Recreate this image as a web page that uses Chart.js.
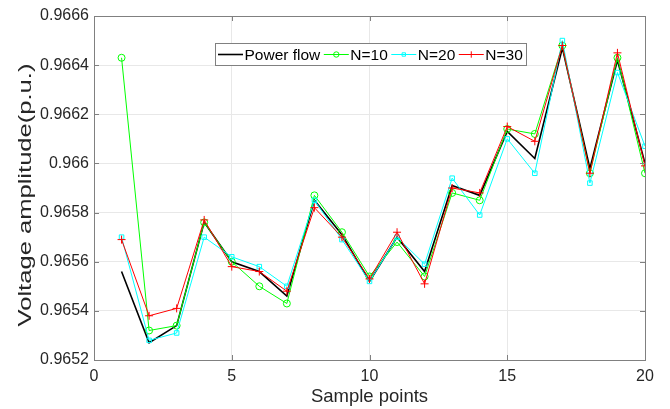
<!DOCTYPE html>
<html>
<head>
<meta charset="utf-8">
<script src="https://cdn.jsdelivr.net/npm/chart.js@4.4.0/dist/chart.umd.min.js"></script>
<style>
  html, body { margin: 0; padding: 0; background: #fff; }
  #wrap { width: 670px; height: 409px; }
</style>
</head>
<body>
<div id="wrap"><canvas id="voltChart" width="670" height="409"></canvas></div>
<script>
// sample index along the x axis
const samplePoints = [1, 2, 3, 4, 5, 6, 7, 8, 9, 10, 11, 12, 13, 14, 15, 16, 17, 18, 19, 20];

// voltage amplitude (p.u.) per series
const powerFlow = [0.96556, 0.96527, 0.96534, 0.96576, 0.96560, 0.96556, 0.96546, 0.96585, 0.96571, 0.96552,
  0.96570, 0.96556, 0.96591, 0.96587, 0.96613, 0.96602, 0.96647, 0.96598, 0.96642, 0.96600];
const n10 = [0.96643, 0.96532, 0.96534, 0.96576, 0.96560, 0.96550, 0.96543, 0.96587, 0.96572, 0.96554,
  0.96568, 0.96554, 0.96588, 0.96585, 0.96614, 0.96612, 0.96648, 0.96596, 0.96643, 0.96596];
const n20 = [0.96570, 0.96528, 0.96531, 0.96570, 0.96562, 0.96558, 0.96550, 0.96585, 0.96569, 0.96552,
  0.96570, 0.96559, 0.96594, 0.96579, 0.96610, 0.96596, 0.96650, 0.96592, 0.96637, 0.96607];
const n30 = [0.96569, 0.96538, 0.96541, 0.96577, 0.96558, 0.96556, 0.96548, 0.96582, 0.96570, 0.96553,
  0.96572, 0.96551, 0.96590, 0.96588, 0.96615, 0.96609, 0.96648, 0.96596, 0.96645, 0.96599];

const xTicks = [0, 5, 10, 15, 20];
const yTicks = [0.9652, 0.9654, 0.9656, 0.9658, 0.966, 0.9662, 0.9664, 0.9666];

const FONT = '"Liberation Sans", Arial, Helvetica, sans-serif';
const TEXT = '#262626';
const AXIS = '#808080';
const GRID = '#e8e8e8';
const Y_TITLE = 'Voltage amplitude(p.u.)';

const toXY = (vals) => vals.map((v, i) => ({ x: samplePoints[i], y: v }));

const series = [
  { label: 'Power flow', data: powerFlow, color: '#000000', width: 1.6, style: false, radius: 0, order: 4 },
  { label: 'N=10', data: n10, color: '#00ff00', width: 1, style: 'circle', radius: 3.5, order: 3 },
  { label: 'N=20', data: n20, color: '#00ffff', width: 1, style: 'rect', radius: 3.2, order: 2 },
  { label: 'N=30', data: n30, color: '#ff0000', width: 1, style: 'cross', radius: 4, order: 1 },
];

// box round the plot plus inward tick marks on all four sides, and the y title
const boxPlugin = {
  id: 'matlabBox',
  afterDatasetsDraw(chart) {
    const { ctx, chartArea: a, scales } = chart;
    const tl = 5;
    ctx.save();
    ctx.strokeStyle = AXIS;
    ctx.lineWidth = 1;
    ctx.strokeRect(Math.round(a.left) + 0.5, Math.round(a.top) + 0.5,
      Math.round(a.right - a.left), Math.round(a.bottom - a.top));
    ctx.beginPath();
    scales.x.ticks.forEach((t) => {
      const px = Math.round(scales.x.getPixelForValue(t.value)) + 0.5;
      ctx.moveTo(px, a.bottom); ctx.lineTo(px, a.bottom - tl);
      ctx.moveTo(px, a.top); ctx.lineTo(px, a.top + tl);
    });
    scales.y.ticks.forEach((t) => {
      const py = Math.round(scales.y.getPixelForValue(t.value)) + 0.5;
      ctx.moveTo(a.left, py); ctx.lineTo(a.left + tl, py);
      ctx.moveTo(a.right, py); ctx.lineTo(a.right - tl, py);
    });
    ctx.stroke();

    // y title, stretched along its length like the exported figure
    ctx.translate(26, (a.top + a.bottom) / 2 + 7);
    ctx.rotate(-Math.PI / 2);
    ctx.scale(1.42, 1);
    ctx.font = '18px ' + FONT;
    ctx.fillStyle = TEXT;
    ctx.textAlign = 'center';
    ctx.textBaseline = 'middle';
    ctx.fillText(Y_TITLE, 0, 0);
    ctx.restore();
  },
};

// legend drawn inside the plot, in one row with a frame
const legendPlugin = {
  id: 'insideLegend',
  afterDraw(chart) {
    const { ctx } = chart;
    const boxL = 215, boxT = 43, boxH = 22;
    const lineLen = 25;
    ctx.save();
    ctx.font = '15.5px ' + FONT;
    ctx.textBaseline = 'middle';
    const widths = series.map((s) => ctx.measureText(s.label).width);
    let total = 3;
    widths.forEach((w) => { total += lineLen + 1.5 + w + 3.5; });
    ctx.fillStyle = '#fff';
    ctx.fillRect(boxL, boxT, total, boxH);
    ctx.strokeStyle = AXIS;
    ctx.lineWidth = 1;
    ctx.strokeRect(boxL + 0.5, boxT + 0.5, Math.round(total), boxH);
    const cy = boxT + boxH / 2 + 0.5;
    let x = boxL + 3;
    series.forEach((s, i) => {
      ctx.strokeStyle = s.color;
      ctx.lineWidth = s.width;
      ctx.beginPath();
      ctx.moveTo(x, cy); ctx.lineTo(x + lineLen, cy);
      ctx.stroke();
      if (s.style) {
        ctx.fillStyle = 'rgba(0,0,0,0)';
        Chart.helpers.drawPoint(ctx, {
          pointStyle: s.style, radius: s.radius - 0.8, rotation: 0, borderWidth: 1,
        }, x + lineLen / 2, cy);
      }
      ctx.fillStyle = '#000';
      ctx.fillText(s.label, x + lineLen + 1.5, cy + 1);
      x += lineLen + 1.5 + widths[i] + 3.5;
    });
    ctx.restore();
  },
};

new Chart(document.getElementById('voltChart').getContext('2d'), {
  type: 'line',
  data: {
    datasets: series.map((s) => ({
      label: s.label,
      data: toXY(s.data),
      borderColor: s.color,
      borderWidth: s.width,
      pointStyle: s.style,
      pointRadius: s.radius,
      pointBorderColor: s.color,
      pointBackgroundColor: 'rgba(0,0,0,0)',
      pointBorderWidth: 1,
      tension: 0,
      order: s.order,
    })),
  },
  options: {
    responsive: false,
    animation: false,
    events: [],
    layout: { padding: { top: 16, right: 25, left: 0, bottom: 0 } },
    plugins: { legend: { display: false }, tooltip: { enabled: false } },
    scales: {
      x: {
        type: 'linear',
        min: 0,
        max: 20,
        afterBuildTicks: (scale) => { scale.ticks = xTicks.map((v) => ({ value: v })); },
        afterFit: (scale) => { scale.height = 49; },
        grid: { color: GRID, drawTicks: false },
        border: { display: false },
        ticks: { color: TEXT, padding: 7, maxRotation: 0, font: { family: FONT, size: 16 } },
        title: {
          display: true, text: 'Sample points', color: TEXT,
          font: { family: FONT, size: 18.5 }, padding: { top: 0, bottom: 1 },
        },
      },
      y: {
        type: 'linear',
        min: 0.9652,
        max: 0.9666,
        afterBuildTicks: (scale) => { scale.ticks = yTicks.map((v) => ({ value: v })); },
        afterFit: (scale) => { scale.width = 94; },
        grid: { color: GRID, drawTicks: false },
        border: { display: false },
        ticks: {
          color: TEXT, padding: 5, font: { family: FONT, size: 16 },
          callback: (v) => String(Number(v.toFixed(4))),
        },
        title: { display: false },
      },
    },
  },
  plugins: [boxPlugin, legendPlugin],
});
</script>
</body>
</html>
